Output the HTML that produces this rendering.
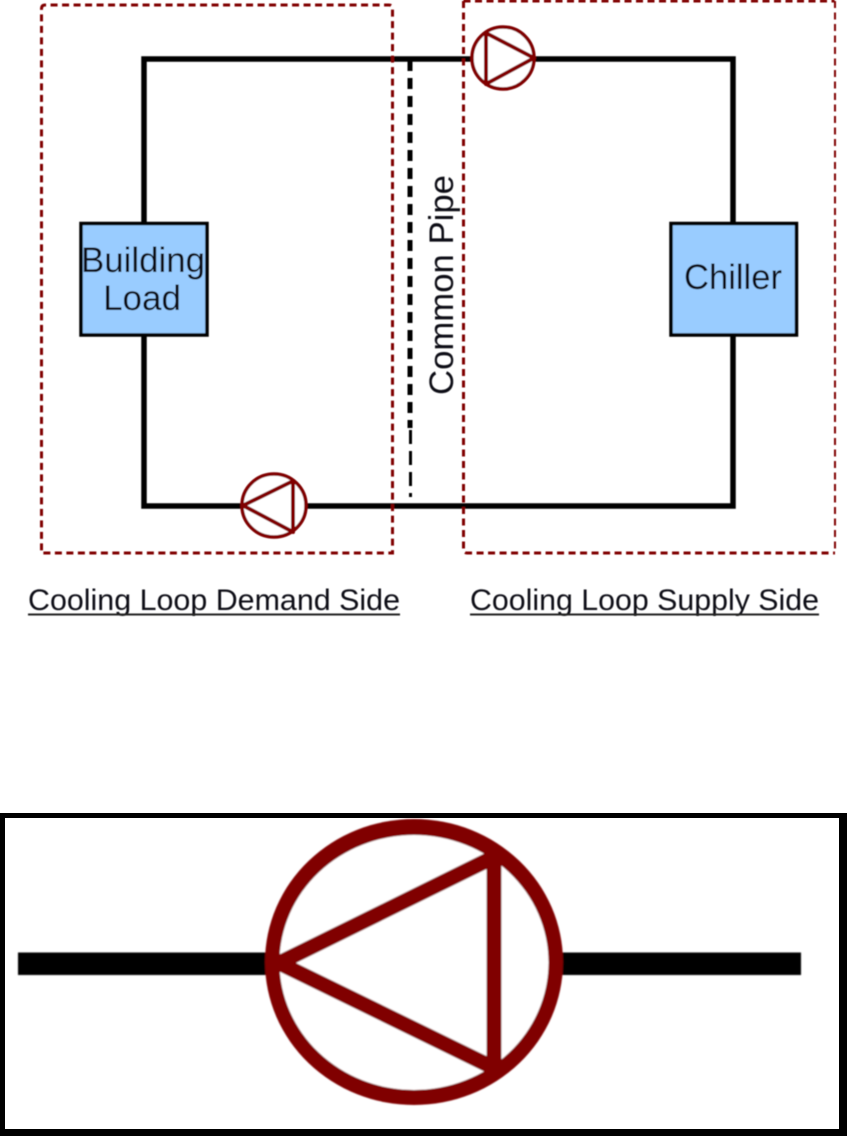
<!DOCTYPE html>
<html>
<head>
<meta charset="utf-8">
<style>
html,body{margin:0;padding:0;background:#fff;}
svg{display:block;}
text{font-family:"Liberation Sans",sans-serif;fill:#111116;}
</style>
</head>
<body>
<svg width="847" height="1136" viewBox="0 0 847 1136" xmlns="http://www.w3.org/2000/svg">
<defs><filter id="b" x="-5%" y="-5%" width="110%" height="110%"><feGaussianBlur stdDeviation="0.4"/></filter>
<filter id="b2" x="-5%" y="-5%" width="110%" height="110%"><feGaussianBlur stdDeviation="0.7"/></filter></defs>
<g filter="url(#b)">
  <!-- pipes -->
  <path d="M144 225V59H733V225M144 333V506H733V333" fill="none" stroke="#000" stroke-width="5.500"/>
  <!-- common pipe -->
  <path d="M410 60V428" stroke="#000" stroke-width="5" stroke-dasharray="11 7" fill="none"/>
  <path d="M410.500 430V497" stroke="#000" stroke-width="3" stroke-dasharray="14 7" fill="none"/>
  <!-- boxes -->
  <rect x="81" y="223.500" width="126" height="111.500" fill="#99ccff" stroke="#000" stroke-width="3.500"/>
  <rect x="671" y="223.500" width="125.500" height="111.500" fill="#99ccff" stroke="#000" stroke-width="3.500"/>
  <!-- dashed regions -->
  <path d="M41.500 9Q41.500 5 45 5H389Q392.500 5 392.500 9V553H41.500Z" fill="none" stroke="#800000" stroke-width="3" stroke-dasharray="7 4.500"/>
  <path d="M463.500 1H834.500" fill="none" stroke="#800000" stroke-width="3" stroke-dasharray="7 4.500"/>
  <path d="M463.500 1V549Q463.500 553 467 553H835" fill="none" stroke="#800000" stroke-width="3" stroke-dasharray="7 4.500"/>
  <path d="M835 1V553" fill="none" stroke="#800000" stroke-width="2" stroke-dasharray="7 4.500"/>
  <!-- top pump -->
  <circle cx="503" cy="58" r="31" fill="#fff" stroke="#800000" stroke-width="3.500"/>
  <path d="M486 33L534 58L486 84Z" fill="none" stroke="#800000" stroke-width="4" stroke-linejoin="round"/>
  <!-- bottom pump -->
  <ellipse cx="274" cy="505.500" rx="32" ry="31.500" fill="#fff" stroke="#800000" stroke-width="3.500"/>
  <path d="M243 505.500L293 481V532Z" fill="none" stroke="#800000" stroke-width="4" stroke-linejoin="round"/>
  <!-- labels -->
  <text x="143" y="272" font-size="35" text-anchor="middle" textLength="124" lengthAdjust="spacingAndGlyphs">Building</text>
  <text x="142" y="310" font-size="35" text-anchor="middle">Load</text>
  <text x="733" y="289" font-size="35" text-anchor="middle" textLength="98" lengthAdjust="spacingAndGlyphs">Chiller</text>
  <text transform="translate(453 395) rotate(-90)" font-size="34.500" textLength="220" lengthAdjust="spacingAndGlyphs">Common Pipe</text>
  <text x="28" y="610" font-size="30" textLength="372" lengthAdjust="spacingAndGlyphs">Cooling Loop Demand Side</text>
  <text x="470" y="610" font-size="30" textLength="349" lengthAdjust="spacingAndGlyphs">Cooling Loop Supply Side</text>
  <path d="M28 614.500H400M470 614.500H819" stroke="#222" stroke-width="2" fill="none"/>
</g>
<!-- enlarged detail -->
<rect x="0" y="813" width="847" height="323" fill="#000"/>
<rect x="5" y="818" width="834" height="311" fill="#fff"/>
<g filter="url(#b2)">
  <rect x="18" y="952.500" width="783" height="22.500" fill="#000"/>
  <ellipse cx="414" cy="962" rx="149" ry="143" fill="#800000"/>
  <ellipse cx="414" cy="962.500" rx="134.500" ry="127.500" fill="#fff"/>
  <path d="M279 963L494 857V1068Z" fill="none" stroke="#800000" stroke-width="15" stroke-linejoin="round"/>
  <circle cx="494" cy="855" r="9" fill="#800000"/>
  <circle cx="494" cy="1070" r="9" fill="#800000"/>
</g>
</svg>
</body>
</html>
